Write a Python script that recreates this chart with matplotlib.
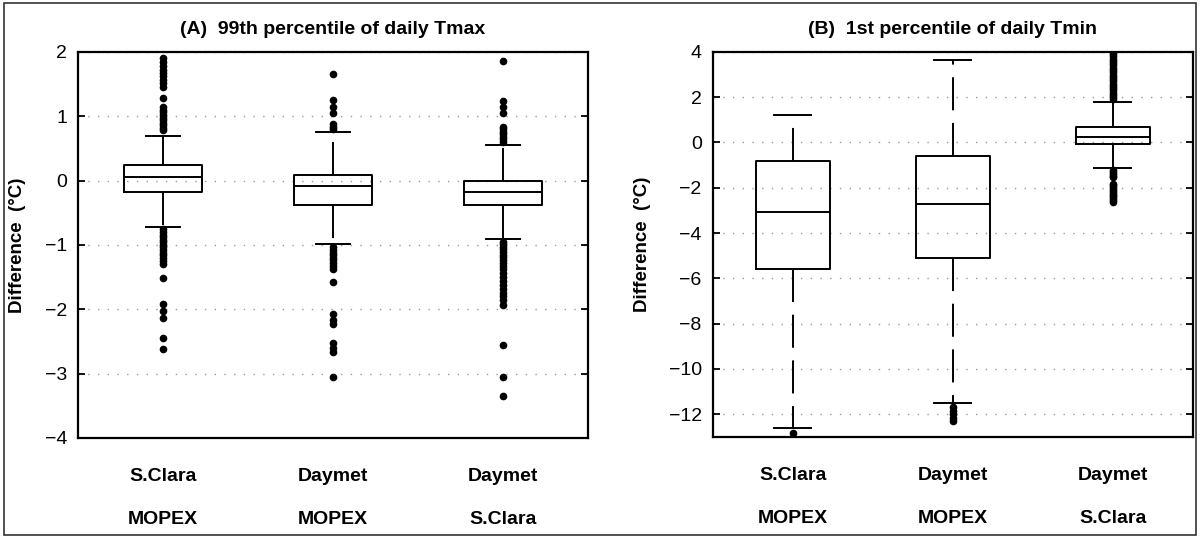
import matplotlib
matplotlib.use('Agg')
import matplotlib.pyplot as plt
from matplotlib.patches import Rectangle

plt.rcParams['font.family'] = ['Liberation Sans', 'DejaVu Sans']
plt.rcParams['axes.unicode_minus'] = True

groups_top = ['S.Clara', 'Daymet', 'Daymet']
groups_bottom = ['MOPEX', 'MOPEX', 'S.Clara']

# (A) 99th percentile of daily Tmax, box statistics per comparison
tmax_med = [0.05, -0.08, -0.18]
tmax_q1 = [-0.17, -0.38, -0.38]
tmax_q3 = [0.25, 0.08, 0.0]
tmax_whislo = [-0.72, -0.98, -0.91]
tmax_whishi = [0.70, 0.75, 0.56]
tmax_fliers = [
    [0.78, 0.82, 0.86, 0.9, 0.94, 0.98, 1.02, 1.06, 1.1, 1.14, 1.29, 1.46, 1.51,
     1.56, 1.62, 1.67, 1.72, 1.78, 1.84, 1.9,
     -0.76, -0.8, -0.84, -0.88, -0.92, -0.96, -1.0, -1.04, -1.08, -1.12, -1.16,
     -1.2, -1.25, -1.3, -1.52, -1.92, -2.03, -2.13, -2.45, -2.62],
    [0.8, 0.84, 0.88, 1.05, 1.15, 1.25, 1.66,
     -1.04, -1.08, -1.12, -1.16, -1.2, -1.24, -1.28, -1.32, -1.37, -1.57, -2.08,
     -2.16, -2.23, -2.52, -2.6, -2.67, -3.06],
    [0.6, 0.64, 0.68, 0.72, 0.76, 0.8, 0.84, 1.05, 1.15, 1.23, 1.86,
     -0.95, -0.99, -1.03, -1.07, -1.11, -1.15, -1.19, -1.23, -1.28, -1.33, -1.38,
     -1.44, -1.5, -1.56, -1.62, -1.68, -1.74, -1.8, -1.86, -1.93, -2.56, -3.05,
     -3.35],
]

# (B) 1st percentile of daily Tmin
tmin_med = [-3.05, -2.7, 0.25]
tmin_q1 = [-5.6, -5.1, -0.05]
tmin_q3 = [-0.8, -0.6, 0.68]
tmin_whislo = [-12.6, -11.5, -1.12]
tmin_whishi = [1.2, 3.65, 1.77]
tmin_fliers = [
    [-12.85],
    [-11.7, -11.85, -12.0, -12.15, -12.3],
    [1.9, 2.0, 2.1, 2.2, 2.3, 2.4, 2.5, 2.6, 2.7, 2.8, 2.9, 3.0, 3.1, 3.2, 3.3,
     3.4, 3.5, 3.6, 3.7, 3.8, 3.9, 4.0,
     -1.22, -1.3, -1.38, -1.46, -1.54, -1.82, -1.9, -1.98, -2.06, -2.14, -2.22,
     -2.3, -2.38, -2.46, -2.54, -2.62],
]


def make_stats(med, q1, q3, lo, hi, fliers):
    return [dict(med=m, q1=a, q3=b, whislo=l, whishi=h, fliers=f)
            for m, a, b, l, h, f in zip(med, q1, q3, lo, hi, fliers)]


def draw_panel(ax, stats, title, ylim, yticks, capw):
    lw = 1.4
    ax.bxp(stats, positions=[1, 2, 3], widths=0.46, capwidths=capw,
           boxprops=dict(color='black', lw=lw),
           medianprops=dict(color='black', lw=lw),
           whiskerprops=dict(color='black', lw=lw, linestyle=(0, (17, 6.5))),
           capprops=dict(color='black', lw=lw),
           flierprops=dict(marker='o', markerfacecolor='black',
                           markeredgecolor='black', markersize=4.5),
           manage_ticks=False)
    ax.set_xlim(0.5, 3.5)
    ax.set_ylim(*ylim)
    ax.set_yticks(yticks)
    ax.yaxis.grid(True, linestyle=(0, (1, 6)), color='#999999', lw=1.0)
    ax.set_axisbelow(True)
    ax.tick_params(axis='y', direction='in', length=5, width=1.3, right=True,
                   labelsize=14, pad=8)
    ax.set_xticks([1, 2, 3])
    ax.set_xticklabels([f'{a}\n{b}' for a, b in zip(groups_top, groups_bottom)],
                       fontsize=14, fontweight='bold', linespacing=2.95)
    ax.tick_params(axis='x', length=0, pad=22)
    for s in ax.spines.values():
        s.set_linewidth(1.6)
    ax.set_title(title, fontsize=14, fontweight='bold', pad=13)
    ax.set_ylabel('Difference  (°C)', fontsize=13.5, fontweight='bold', labelpad=13)


fig = plt.figure(figsize=(12, 5.38), dpi=100)
ax1 = fig.add_axes([0.065, 0.186, 0.425, 0.7175])
ax2 = fig.add_axes([0.594, 0.188, 0.400, 0.7156])

draw_panel(ax1, make_stats(tmax_med, tmax_q1, tmax_q3, tmax_whislo, tmax_whishi, tmax_fliers),
           '(A)  99th percentile of daily Tmax', (-4, 2), range(-4, 3), 0.2)
draw_panel(ax2, make_stats(tmin_med, tmin_q1, tmin_q3, tmin_whislo, tmin_whishi, tmin_fliers),
           '(B)  1st percentile of daily Tmin', (-13, 4), range(-12, 5, 2), 0.23)

# thin frame round the whole figure
fig.patches.append(Rectangle((0.003, 0.005), 0.994, 0.99, transform=fig.transFigure,
                             fill=False, edgecolor='#333333', lw=1.2))

fig.savefig('out.png', dpi=100)
